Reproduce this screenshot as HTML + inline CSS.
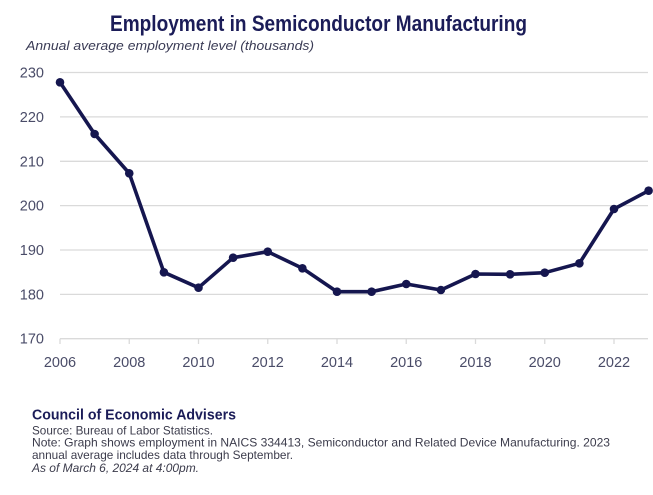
<!DOCTYPE html>
<html><head><meta charset="utf-8"><style>
html,body{margin:0;padding:0;background:#fff;}
svg{display:block;}
text{font-family:"Liberation Sans",Arial,sans-serif;}
</style></head><body>
<svg width="653" height="495" viewBox="0 0 653 495" xmlns="http://www.w3.org/2000/svg">
<rect width="653" height="495" fill="#fff"/>
<text x="110" y="31" font-size="22" font-weight="bold" fill="#1b1c58" textLength="417" lengthAdjust="spacingAndGlyphs">Employment in Semiconductor Manufacturing</text>
<text x="26" y="50" font-size="13" font-style="italic" fill="#3a3b55" textLength="288" lengthAdjust="spacingAndGlyphs">Annual average employment level (thousands)</text>
<g stroke="#dadada" stroke-width="1.3">
<line x1="60" y1="72.5" x2="648" y2="72.5"/>
<line x1="60" y1="116.9" x2="648" y2="116.9"/>
<line x1="60" y1="161.3" x2="648" y2="161.3"/>
<line x1="60" y1="205.6" x2="648" y2="205.6"/>
<line x1="60" y1="250" x2="648" y2="250"/>
<line x1="60" y1="294.4" x2="648" y2="294.4"/>
<line x1="60" y1="338.7" x2="648" y2="338.7"/>
<line x1="60" y1="338.7" x2="60" y2="344"/>
<line x1="129.25" y1="338.7" x2="129.25" y2="344"/>
<line x1="198.5" y1="338.7" x2="198.5" y2="344"/>
<line x1="267.75" y1="338.7" x2="267.75" y2="344"/>
<line x1="337" y1="338.7" x2="337" y2="344"/>
<line x1="406.25" y1="338.7" x2="406.25" y2="344"/>
<line x1="475.5" y1="338.7" x2="475.5" y2="344"/>
<line x1="544.75" y1="338.7" x2="544.75" y2="344"/>
<line x1="614" y1="338.7" x2="614" y2="344"/>
</g>
<g font-size="14.5" fill="#4a4c68" text-anchor="end">
<text x="44" y="77.5">230</text>
<text x="44" y="121.9">220</text>
<text x="44" y="166.3">210</text>
<text x="44" y="210.6">200</text>
<text x="44" y="255">190</text>
<text x="44" y="299.4">180</text>
<text x="44" y="343.7">170</text>
</g>
<g font-size="14.5" fill="#4a4c68" text-anchor="middle">
<text x="60" y="367">2006</text>
<text x="129.25" y="367">2008</text>
<text x="198.5" y="367">2010</text>
<text x="267.75" y="367">2012</text>
<text x="337" y="367">2014</text>
<text x="406.25" y="367">2016</text>
<text x="475.5" y="367">2018</text>
<text x="544.75" y="367">2020</text>
<text x="614" y="367">2022</text>
</g>
<polyline fill="none" stroke="#15164f" stroke-width="3.6" stroke-linejoin="round" stroke-linecap="round"
points="60,82.3 94.6,134 129.25,173.3 163.9,272.3 198.5,287.7 233.1,257.7 267.75,251.7 302.4,268.3 337,291.7 371.6,291.7 406.25,284 440.9,290 475.5,274 510.1,274.3 544.75,272.7 579.4,263.3 614,209 648.6,190.7"/>
<g fill="#15164f">
<circle cx="60" cy="82.3" r="4.3"/>
<circle cx="94.6" cy="134" r="4.3"/>
<circle cx="129.25" cy="173.3" r="4.3"/>
<circle cx="163.9" cy="272.3" r="4.3"/>
<circle cx="198.5" cy="287.7" r="4.3"/>
<circle cx="233.1" cy="257.7" r="4.3"/>
<circle cx="267.75" cy="251.7" r="4.3"/>
<circle cx="302.4" cy="268.3" r="4.3"/>
<circle cx="337" cy="291.7" r="4.3"/>
<circle cx="371.6" cy="291.7" r="4.3"/>
<circle cx="406.25" cy="284" r="4.3"/>
<circle cx="440.9" cy="290" r="4.3"/>
<circle cx="475.5" cy="274" r="4.3"/>
<circle cx="510.1" cy="274.3" r="4.3"/>
<circle cx="544.75" cy="272.7" r="4.3"/>
<circle cx="579.4" cy="263.3" r="4.3"/>
<circle cx="614" cy="209" r="4.3"/>
<circle cx="648.6" cy="190.7" r="4.3"/>
</g>
<text x="32" y="419.5" font-size="14.5" font-weight="bold" fill="#1b1c58" textLength="204" lengthAdjust="spacingAndGlyphs">Council of Economic Advisers</text>
<g font-size="12" fill="#3c3c4c">
<text x="32" y="434.3" textLength="181" lengthAdjust="spacingAndGlyphs">Source: Bureau of Labor Statistics.</text>
<text x="32" y="446.7" textLength="578" lengthAdjust="spacingAndGlyphs">Note: Graph shows employment in NAICS 334413, Semiconductor and Related Device Manufacturing. 2023</text>
<text x="32" y="459" textLength="261" lengthAdjust="spacingAndGlyphs">annual average includes data through September.</text>
<text x="32" y="472" font-style="italic" textLength="167" lengthAdjust="spacingAndGlyphs">As of March 6, 2024 at 4:00pm.</text>
</g>
</svg>
</body></html>
